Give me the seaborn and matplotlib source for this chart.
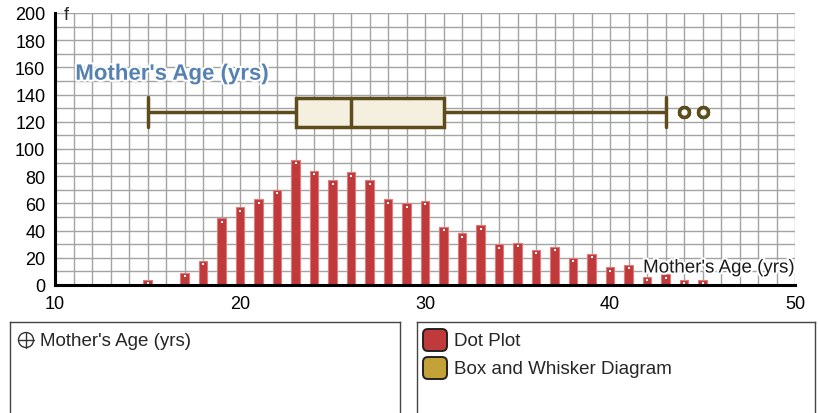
import numpy as np
import matplotlib
matplotlib.use("Agg")
import matplotlib.pyplot as plt
import matplotlib.patheffects as pe
from matplotlib.patches import FancyBboxPatch, Circle
from matplotlib.ticker import MultipleLocator
import seaborn as sns

# frequency of each mother's age
ages = [15, 17, 18, 19, 20, 21, 22, 23, 24, 25, 26, 27, 28, 29, 30,
        31, 32, 33, 34, 35, 36, 37, 38, 39, 40, 41, 42, 43, 44, 45]
counts = [4, 9, 18, 49, 57, 63, 70, 92, 84, 77, 83, 77, 63, 60, 62,
          43, 38, 44, 30, 31, 26, 28, 20, 23, 13, 15, 6, 8, 4, 4]
box_level = 127          # height (f) where the box plot sits
var_name = "Mother's Age (yrs)"
legend_items = ["Dot Plot", "Box and Whisker Diagram"]
legend_colors = ["#c0393b", "#c4a238"]

sns.set_style("white")
plt.rcParams['font.family'] = ['Liberation Sans', 'DejaVu Sans']

fig = plt.figure(figsize=(8.18, 4.14), dpi=100)
ax = fig.add_axes([55 / 818, 1 - 286 / 414, 740 / 818, 272 / 414])

ax.grid(True, which="both", color="#a3a3a3", lw=1)
ax.set_axisbelow(True)

# bars (dot plot as frequency columns)
sns.barplot(x=ages, y=counts, native_scale=True, width=0.45,
            color="#c0393b", edgecolor="#e07a78", linewidth=0.8,
            saturation=1, ax=ax, zorder=3)
ax.scatter(ages, np.array(counts) - 2.5, s=2, marker="s", color="white",
           zorder=4, lw=0)

# box and whisker from the raw ages
raw = np.repeat(ages, counts)
sns.boxplot(x=raw, y=np.full(len(raw), box_level), orient="h",
            native_scale=True, width=21, whis=1.5, ax=ax,
            color="#f4efdf", linecolor="#5e4d1c", linewidth=2.5,
            saturation=1, capwidths=22,
            flierprops=dict(marker="o", markersize=7, markeredgewidth=2.5,
                            markerfacecolor="white",
                            markeredgecolor="#5e4d1c"),
            zorder=5)

ax.set_xlim(10, 50)
ax.set_ylim(0, 200)
ax.xaxis.set_major_locator(MultipleLocator(10))
ax.xaxis.set_minor_locator(MultipleLocator(1))
ax.yaxis.set_major_locator(MultipleLocator(20))
ax.yaxis.set_minor_locator(MultipleLocator(10))
ax.grid(True, which="both", color="#a3a3a3", lw=1)

for s in ["top", "right"]:
    ax.spines[s].set_visible(False)
for s in ["left", "bottom"]:
    ax.spines[s].set_color("black")
    ax.spines[s].set_linewidth(2.2)
    ax.spines[s].set_zorder(6)
ax.tick_params(which="major", direction="inout", length=10, width=2,
               labelsize=13, colors="black", pad=2)
ax.tick_params(which="minor", direction="inout", length=7, width=2,
               colors="black")
ax.set_xlabel("")
ax.set_ylabel("")

ax.text(10.45, 199, "f", ha="left", va="center", fontsize=13)
ax.text(11.1, 155, var_name, ha="left", va="center", fontsize=16,
        fontweight="bold", color="#5682b2", zorder=7,
        path_effects=[pe.withStroke(linewidth=3, foreground="white")])
ax.text(49.95, 12.5, var_name, ha="right", va="center", fontsize=13.5,
        color="#1a1a1a", zorder=7,
        path_effects=[pe.withStroke(linewidth=3, foreground="white")])

# bottom panels
def panel(x0, x1):
    pax = fig.add_axes([x0 / 818, -5 / 414, (x1 - x0) / 818, 96 / 414])
    pax.set_xlim(x0, x1)
    pax.set_ylim(419, 323)
    pax.set_xticks([])
    pax.set_yticks([])
    for s in pax.spines.values():
        s.set_color("#444444")
        s.set_linewidth(1)
    return pax

lp = panel(10, 400)
lp.add_patch(Circle((26, 341), 7.5, fill=False, ec="#333333", lw=1))
lp.plot([18.5, 33.5], [341, 341], color="#333333", lw=1)
lp.plot([26, 26], [333.5, 348.5], color="#333333", lw=1)
lp.text(40, 341, var_name, ha="left", va="center", fontsize=13.5)

rp = panel(417, 815)
for i, (lab, col) in enumerate(zip(legend_items, legend_colors)):
    yc = 341 + i * 28
    rp.add_patch(FancyBboxPatch((423, yc - 11), 24, 22,
                                boxstyle="round,pad=0,rounding_size=5",
                                fc=col, ec="#222222", lw=1.4))
    rp.text(454, yc, lab, ha="left", va="center", fontsize=13.5)

plt.savefig("out.png", dpi=100)
